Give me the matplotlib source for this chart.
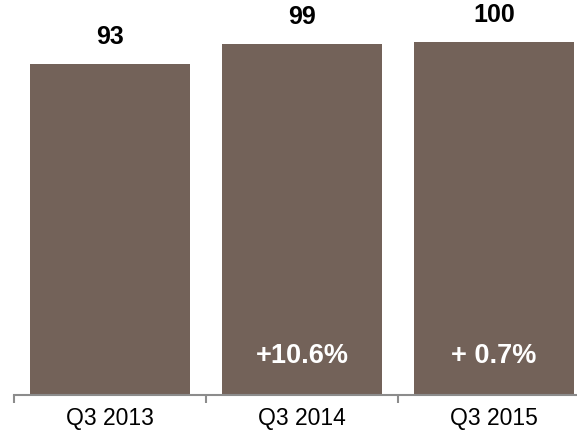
import numpy as np
import matplotlib.pyplot as plt

plt.rcParams['font.family'] = ['Liberation Sans', 'DejaVu Sans']

# data
quarters = ['Q3 2013', 'Q3 2014', 'Q3 2015']
values = [93.7, 99.3, 100.0]
value_labels = ['93', '99', '100']
growth_labels = ['', '+10.6%', '+ 0.7%']

bar_color = '#736259'

fig = plt.figure(figsize=(5.77, 4.32), dpi=100)
ax = fig.add_axes([14 / 577, 37 / 432, 576 / 577, 395 / 432])

x = np.arange(len(quarters))
bars = ax.bar(x, values, width=0.833, color=bar_color, zorder=2)

# value labels above the bars
for xi, v, lab in zip(x, values, value_labels):
    ax.annotate(lab, (xi, v), xytext=(0, 19.5), textcoords='offset points',
                ha='center', va='center', fontsize=18, fontweight='bold')

# growth labels inside the bars
for xi, lab in zip(x, growth_labels):
    if lab:
        ax.text(xi, 11, lab, ha='center', va='center', fontsize=19.5,
                fontweight='bold', color='white')

ax.set_xlim(-0.5, len(quarters) - 0.5)
ax.set_ylim(0, 111.8)
ax.set_yticks([])
ax.set_xticks(x)
ax.set_xticklabels(quarters, fontsize=16.5)
ax.set_xticks(np.arange(len(quarters) + 1) - 0.5, minor=True)
ax.tick_params(axis='x', which='major', length=0, pad=9)
ax.tick_params(axis='x', which='minor', length=6, width=1.5, color='#8c8c8c')

for s in ['top', 'right', 'left']:
    ax.spines[s].set_visible(False)
ax.spines['bottom'].set_color('#8c8c8c')
ax.spines['bottom'].set_linewidth(1.5)

fig.savefig('out.png', dpi=100)
